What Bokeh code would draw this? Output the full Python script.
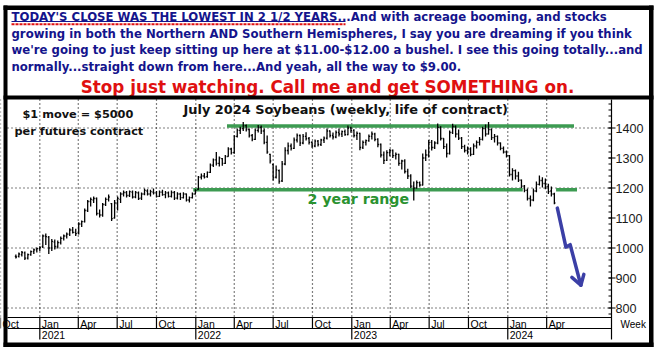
import pandas as pd
from bokeh.plotting import figure
from bokeh.models import Range1d
from bokeh.core.properties import value
from bokeh.embed import file_html
from bokeh.resources import INLINE

# ---------------- data (weekly OHLC, July 2024 soybeans, cents/bu) ----------------
opens = [
    972, 972, 978, 984,
    966, 978, 988, 994,
    998, 1005, 1040, 1036, 1000,
    1020, 1005, 1018, 1032,
    1040, 1046, 1060, 1052,
    1050, 1080, 1088, 1125, 1155,
    1160, 1165, 1115, 1110,
    1145, 1162, 1148, 1100,
    1150, 1162, 1180, 1185, 1175,
    1186, 1170, 1184, 1166,
    1180, 1190, 1180, 1186,
    1184, 1172, 1186, 1178, 1184,
    1172, 1185, 1166, 1180,
    1168, 1180, 1160, 1168, 1180,
    1195, 1236, 1240, 1238,
    1252, 1276, 1294, 1282,
    1298, 1282, 1305, 1330,
    1318, 1372, 1392, 1398, 1408,
    1395, 1375, 1362, 1392,
    1402, 1390, 1352, 1312,
    1278, 1236, 1258, 1224, 1280,
    1325, 1340, 1332, 1360,
    1375, 1350, 1372, 1365, 1352,
    1340, 1356, 1345, 1360,
    1366, 1390, 1375, 1370,
    1385, 1380, 1388, 1378, 1400,
    1392, 1375, 1382, 1335,
    1352, 1358, 1372, 1380,
    1362, 1345, 1310, 1292, 1318,
    1325, 1308, 1312, 1282,
    1290, 1255, 1240, 1206,
    1200, 1218, 1210, 1300, 1310,
    1352, 1335, 1350, 1402,
    1365, 1338, 1315, 1385,
    1405, 1380, 1366, 1338, 1325,
    1330, 1312, 1340, 1352,
    1362, 1398, 1380, 1395,
    1368, 1372, 1350, 1332, 1320,
    1308, 1245, 1258, 1240,
    1226, 1206, 1192, 1165,
    1160, 1190, 1212, 1225, 1215,
    1205, 1190, 1180,
]
highs = [
    978, 985, 990, 988,
    982, 992, 998, 1002,
    1006, 1045, 1048, 1040, 1030,
    1028, 1025, 1038, 1045,
    1052, 1066, 1070, 1064,
    1086, 1092, 1132, 1160, 1168,
    1172, 1168, 1128, 1150,
    1168, 1178, 1150, 1160,
    1172, 1186, 1192, 1190, 1192,
    1192, 1190, 1188, 1185,
    1198, 1196, 1194, 1198,
    1190, 1192, 1194, 1190, 1188,
    1192, 1190, 1186, 1184,
    1186, 1182, 1172, 1185, 1196,
    1240, 1248, 1250, 1255,
    1282, 1298, 1320, 1305,
    1300, 1310, 1336, 1334,
    1376, 1398, 1404, 1420, 1412,
    1398, 1380, 1398, 1410,
    1408, 1398, 1375, 1314,
    1282, 1275, 1262, 1290, 1336,
    1352, 1348, 1368, 1382,
    1378, 1380, 1386, 1370, 1356,
    1362, 1360, 1364, 1372,
    1398, 1392, 1385, 1392,
    1398, 1392, 1395, 1408, 1404,
    1396, 1388, 1384, 1358,
    1362, 1378, 1388, 1384,
    1366, 1348, 1322, 1326, 1330,
    1328, 1318, 1314, 1294,
    1296, 1264, 1246, 1222,
    1225, 1222, 1315, 1328, 1360,
    1360, 1356, 1415, 1406,
    1366, 1348, 1392, 1414,
    1408, 1395, 1370, 1344, 1338,
    1336, 1348, 1358, 1370,
    1404, 1412, 1420, 1398,
    1380, 1375, 1352, 1338, 1325,
    1310, 1266, 1262, 1254,
    1228, 1210, 1198, 1175,
    1198, 1222, 1242, 1236, 1232,
    1214, 1205, 1184,
]
lows = [
    965, 968, 972, 960,
    962, 974, 980, 985,
    990, 1000, 1010, 980, 990,
    995, 998, 1012, 1025,
    1032, 1040, 1048, 1040,
    1045, 1070, 1085, 1120, 1138,
    1150, 1108, 1102, 1104,
    1140, 1155, 1090, 1098,
    1125, 1150, 1172, 1168, 1170,
    1165, 1166, 1160, 1160,
    1176, 1175, 1172, 1178,
    1168, 1170, 1174, 1166, 1168,
    1168, 1160, 1162, 1160,
    1165, 1155, 1152, 1165, 1178,
    1194, 1228, 1232, 1234,
    1250, 1270, 1275, 1272,
    1274, 1280, 1304, 1312,
    1314, 1368, 1380, 1390, 1388,
    1368, 1356, 1360, 1385,
    1380, 1346, 1314, 1282,
    1225, 1232, 1214, 1220, 1276,
    1312, 1325, 1330, 1352,
    1340, 1346, 1358, 1345, 1334,
    1336, 1338, 1340, 1350,
    1362, 1368, 1362, 1366,
    1372, 1370, 1374, 1376, 1384,
    1368, 1360, 1326, 1330,
    1342, 1354, 1362, 1356,
    1336, 1302, 1280, 1290, 1306,
    1300, 1295, 1274, 1262,
    1248, 1230, 1200, 1158,
    1198, 1204, 1208, 1290, 1302,
    1325, 1330, 1346, 1358,
    1330, 1302, 1312, 1380,
    1368, 1360, 1330, 1318, 1312,
    1306, 1310, 1332, 1342,
    1358, 1372, 1378, 1360,
    1352, 1342, 1326, 1315, 1302,
    1238, 1225, 1228, 1220,
    1200, 1186, 1158, 1138,
    1156, 1186, 1208, 1202, 1196,
    1180, 1172, 1146,
]
closes = [
    970, 980, 985, 966,
    978, 988, 994, 998,
    1002, 1040, 1038, 1000, 1022,
    1005, 1018, 1032, 1040,
    1046, 1060, 1052, 1048,
    1080, 1088, 1125, 1155, 1162,
    1165, 1115, 1110, 1145,
    1162, 1170, 1098, 1150,
    1165, 1180, 1185, 1175, 1188,
    1170, 1185, 1165, 1180,
    1192, 1180, 1188, 1184,
    1172, 1186, 1178, 1184, 1172,
    1185, 1166, 1180, 1168,
    1180, 1160, 1168, 1180, 1192,
    1236, 1240, 1236, 1252,
    1276, 1294, 1282, 1300,
    1282, 1305, 1330, 1318,
    1372, 1392, 1398, 1408, 1395,
    1375, 1362, 1392, 1402,
    1390, 1352, 1320, 1290,
    1235, 1260, 1222, 1280, 1325,
    1340, 1332, 1360, 1375,
    1350, 1372, 1365, 1352, 1340,
    1356, 1345, 1360, 1366,
    1390, 1375, 1370, 1385,
    1380, 1388, 1378, 1400, 1392,
    1375, 1382, 1335, 1352,
    1358, 1372, 1380, 1362,
    1345, 1310, 1292, 1318, 1325,
    1308, 1312, 1282, 1290,
    1255, 1240, 1206, 1200,
    1218, 1210, 1300, 1310, 1352,
    1335, 1350, 1402, 1365,
    1338, 1315, 1385, 1405,
    1380, 1366, 1338, 1325, 1330,
    1312, 1340, 1352, 1362,
    1398, 1380, 1395, 1368,
    1372, 1350, 1332, 1320, 1308,
    1245, 1258, 1240, 1226,
    1206, 1192, 1165, 1160,
    1190, 1212, 1225, 1215, 1205,
    1188, 1180, 1150,
]
weeks = pd.date_range("2020-11-06", periods=len(closes), freq="W-FRI")

quarter_dates = pd.to_datetime([
    "2020-10-01", "2021-01-01", "2021-04-01", "2021-07-01", "2021-10-01",
    "2022-01-01", "2022-04-01", "2022-07-01", "2022-10-01",
    "2023-01-01", "2023-04-01", "2023-07-01", "2023-10-01",
    "2024-01-01", "2024-04-01",
])
quarter_labels = ["Oct", "Jan", "Apr", "Jul", "Oct", "Jan", "Apr", "Jul", "Oct",
                  "Jan", "Apr", "Jul", "Oct", "Jan", "Apr"]
year_dates = pd.to_datetime(["2021-01-01", "2022-01-01", "2023-01-01", "2024-01-01"])
year_labels = ["2021", "2022", "2023", "2024"]

price_ticks = [800, 900, 1000, 1100, 1200, 1300, 1400]
price_tick_labels = ["800", "900", "1000", "1100", "1200", "1300", "1400"]
price_grid = [800, 1000, 1200, 1400]
price_minor = list(range(780, 1500, 20))

# the "2 year range" support / resistance levels
range_levels = [1407, 1194, 1194]
range_starts = pd.to_datetime(["2022-03-15", "2021-12-26", "2024-04-23"])
range_ends = pd.to_datetime(["2024-06-04", "2024-02-05", "2024-06-11"])

# projected path arrow
arrow_dates = pd.to_datetime(["2024-04-26", "2024-05-16", "2024-05-26", "2024-06-20"])
arrow_prices = [1133, 1003, 1011, 876]
arrow_head_dates = pd.to_datetime(["2024-05-30", "2024-06-20", "2024-06-27"])
arrow_head_prices = [902, 876, 912]

header_lines = [
    "TODAY'S CLOSE WAS THE LOWEST IN 2 1/2 YEARS...And with acreage booming, and stocks",
    "growing in both the Northern AND Southern Hemispheres, I say you are dreaming if you think",
    "we're going to just keep sitting up here at $11.00-$12.00 a bushel. I see this going totally...and",
    "normally...straight down from here...And yeah, all the way to $9.00.",
]
call_line = "Stop just watching. Call me and get SOMETHING on."
chart_title = "July 2024 Soybeans (weekly, life of contract)"
note_lines = ["$1 move = $5000", "per futures contract"]
range_label = "2 year range"

# ---------------- layout constants (pixels) ----------------
W, H = 656, 351
FRAME_L, AXIS_X = 7, 611
PLOT_TOP, PLOT_BOT, ROW2, ROW_END = 99, 317, 328, 339

BLUE = "#14148c"
RED = "#e01010"
GREEN_LINE = "#3d9b52"
GREEN_TEXT = "#2a922f"
ARROW = "#3b3fa6"
BOLD = value("DejaVu Sans")
SANS = value("Liberation Sans")

p = figure(width=W, height=H, output_backend="svg", toolbar_location=None,
           x_axis_type="datetime", x_axis_location=None, y_axis_location=None,
           x_range=Range1d(pd.Timestamp("2020-10-01"), pd.Timestamp("2024-12-14")),
           y_range=Range1d(655, 1825),
           min_border=0, min_border_left=0, min_border_right=0,
           min_border_top=0, min_border_bottom=0)
p.outline_line_color = None
p.background_fill_color = "white"
p.border_fill_color = "white"
p.grid.grid_line_color = None
p.extra_x_ranges = {"px": Range1d(0, W)}
p.extra_y_ranges = {"px": Range1d(H, 0)}
PX = dict(x_range_name="px", y_range_name="px")

# ---- grid (dotted) ----
p.segment(x0=quarter_dates.values, x1=quarter_dates.values,
          y0=[PLOT_TOP] * len(quarter_dates), y1=[PLOT_BOT] * len(quarter_dates),
          y_range_name="px", line_color="black", line_width=1.2, line_dash="1 3")
p.segment(x0=[FRAME_L] * len(price_grid), x1=[AXIS_X] * len(price_grid),
          y0=price_grid, y1=price_grid, x_range_name="px",
          line_color="black", line_width=1.2, line_dash="1 3")

# ---- range lines ----
p.segment(x0=range_starts.values, x1=range_ends.values, y0=range_levels, y1=range_levels,
          line_color=GREEN_LINE, line_width=3.5)

# ---- OHLC bars ----
tick = pd.Timedelta(hours=60)
p.segment(x0=weeks.values, x1=weeks.values, y0=lows, y1=highs, line_color="black", line_width=1.3)
p.segment(x0=(weeks - tick).values, x1=weeks.values, y0=opens, y1=opens, line_color="black", line_width=1.3)
p.segment(x0=weeks.values, x1=(weeks + tick).values, y0=closes, y1=closes, line_color="black", line_width=1.3)

# ---- arrow ----
p.line(x=arrow_dates.values, y=arrow_prices, line_color=ARROW, line_width=3.5, line_join="round", line_cap="round")
p.line(x=arrow_head_dates.values, y=arrow_head_prices, line_color=ARROW, line_width=3.5, line_join="round", line_cap="round")

# ---- annotations in chart ----
p.text(x=[183], y=[109], text=[chart_title], text_font=BOLD, text_font_style="bold",
       text_font_size="12.9px", text_color="#111111", text_baseline="middle", **PX)
p.text(x=[22, 14], y=[114, 131], text=note_lines, text_font=BOLD, text_font_style="bold",
       text_font_size="11.3px", text_color="#111111", text_baseline="middle", **PX)
p.text(x=[307], y=[198], text=[range_label], text_font=BOLD, text_font_style="bold",
       text_font_size="14.2px", text_color=GREEN_TEXT, text_baseline="middle", **PX)

# ---- bottom date axis ----
p.segment(x0=[FRAME_L, FRAME_L], x1=[AXIS_X, AXIS_X], y0=[PLOT_BOT, ROW2], y1=[PLOT_BOT, ROW2],
          line_color="black", line_width=1.2, **PX)
p.segment(x0=quarter_dates.values, x1=quarter_dates.values,
          y0=[PLOT_BOT] * len(quarter_dates), y1=[ROW2] * len(quarter_dates),
          y_range_name="px", line_color="black", line_width=1.2)
p.segment(x0=year_dates.values, x1=year_dates.values,
          y0=[ROW2] * len(year_dates), y1=[ROW_END] * len(year_dates),
          y_range_name="px", line_color="black", line_width=1.2)
p.text(x=quarter_dates.values, y=[323] * len(quarter_dates), text=quarter_labels, x_offset=2,
       y_range_name="px", text_font=SANS, text_font_size="10.5px", text_color="black",
       text_baseline="middle")
p.text(x=year_dates.values, y=[334] * len(year_dates), text=year_labels, x_offset=2,
       y_range_name="px", text_font=SANS, text_font_size="10.5px", text_color="black",
       text_baseline="middle")

# ---- right price axis ----
p.segment(x0=[AXIS_X], x1=[AXIS_X], y0=[PLOT_TOP], y1=[ROW_END], line_color="black", line_width=1.2, **PX)
p.segment(x0=[AXIS_X - 3] * len(price_minor), x1=[AXIS_X] * len(price_minor),
          y0=price_minor, y1=price_minor, x_range_name="px", line_color="black", line_width=1)
p.segment(x0=[AXIS_X - 3] * len(price_ticks), x1=[AXIS_X + 4] * len(price_ticks),
          y0=price_ticks, y1=price_ticks, x_range_name="px", line_color="black", line_width=1)
p.text(x=[615] * len(price_ticks), y=price_ticks, text=price_tick_labels, x_range_name="px",
       text_font=SANS, text_font_size="12.6px", text_color="#1a1a1a", text_baseline="middle")
p.text(x=[620], y=[324], text=["Week"], text_font=SANS, text_font_size="10px",
       text_color="black", text_baseline="middle", **PX)

# ---- header ----
p.text(x=[11] * 4, y=[16, 33, 49.5, 66], text=header_lines, text_font=BOLD, text_font_style="bold",
       text_font_size="11.7px", text_color=BLUE, text_baseline="middle", **PX)
p.segment(x0=[11], x1=[345], y0=[21], y1=[21], line_color=BLUE, line_width=1, **PX)
p.segment(x0=[11], x1=[345], y0=[23.7], y1=[23.7], line_color=RED, line_width=2, line_dash="3 1", **PX)
p.text(x=[327], y=[86.5], text=[call_line], text_font=BOLD, text_font_style="bold",
       text_font_size="16.8px", text_color=RED, text_baseline="middle", text_align="center", **PX)

# ---- frame borders ----
p.quad(left=[3, 3, 648.5, 3, 3], right=[653, 7, 653, 653, 653],
       top=[5, 5, 5, 342, 95], bottom=[9.5, 346.5, 346.5, 346.5, 99],
       fill_color="black", line_color=None, **PX)

open("out.html", "w").write(file_html(p, INLINE))
